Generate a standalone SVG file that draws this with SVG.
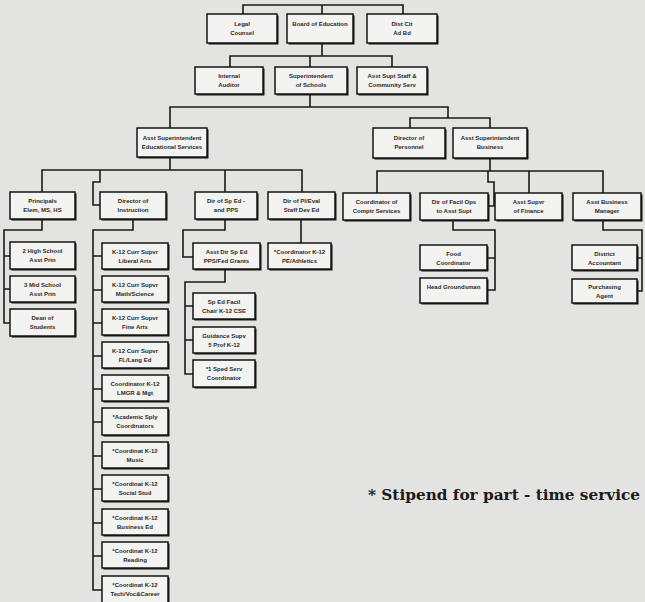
<svg xmlns="http://www.w3.org/2000/svg" width="645" height="602" viewBox="0 0 645 602">
<defs>
<style>
.bg{fill:#e3e3e1}
.sh{fill:#151515}
.bx{fill:#f3f3f1;stroke:#151515;stroke-width:1.5}
.t{font-family:"Liberation Sans",Arial,sans-serif;font-size:6px;font-weight:bold;fill:#2a2a2a;text-anchor:middle}
.c{fill:none;stroke:#1a1a1a;stroke-width:1.6}
.fn{font-family:"DejaVu Serif","Liberation Serif",serif;font-size:15.3px;font-weight:bold;fill:#1a1a1a}
</style>
</defs>
<rect class="bg" x="0" y="0" width="645" height="602"/>

<g id="connectors">
<path class="c" d="M243,14V5H403V14M322,5V14"/>
<path class="c" d="M322,43V56M230,67V56H392V67M310,56V67"/>
<path class="c" d="M310,94V107M170,128V107H448V118M410,128V118H490V128"/>
<path class="c" d="M170,157V170M42,192V170H302V192M225,170V192M100,170V182H93V205H100"/>
<path class="c" d="M490,158V171M377,193V171H603V193M529,171V193M488,171V182H494V206H488"/>
<path class="c" d="M42,219V230H4V323H10M4,256H10M4,289H10"/>
<path class="c" d="M133,219V230H93V590H102M93,256H102M93,290H102M93,323H102M93,356H102M93,389H102M93,422H102M93,456H102M93,489H102M93,523H102M93,556H102"/>
<path class="c" d="M225,219V230H183V257H193"/>
<path class="c" d="M301,219V243"/>
<path class="c" d="M225,270V282H185V374H193M185,306H193M185,340H193"/>
<path class="c" d="M453,220V230H495V290H487M495,258H487"/>
<path class="c" d="M603,220V230H642V291H637M642,258H637"/>
</g>

<g id="n_legal"><rect class="sh" x="208.5" y="15.5" width="70" height="29"/><rect class="bx" x="207" y="14" width="70" height="29"/><text class="t" x="242" y="26">Legal</text><text class="t" x="242" y="35">Counsel</text></g>
<g id="n_board"><rect class="sh" x="288.5" y="15.5" width="66" height="29"/><rect class="bx" x="287" y="14" width="66" height="29"/><text class="t" x="320" y="26">Board of Education</text></g>
<g id="n_dist"><rect class="sh" x="368.5" y="15.5" width="70" height="29"/><rect class="bx" x="367" y="14" width="70" height="29"/><text class="t" x="402" y="26">Dist Cit</text><text class="t" x="402" y="35">Ad Bd</text></g>

<g id="n_audit"><rect class="sh" x="196.5" y="68.5" width="68" height="27"/><rect class="bx" x="195" y="67" width="68" height="27"/><text class="t" x="229" y="78">Internal</text><text class="t" x="229" y="87">Auditor</text></g>
<g id="n_supt"><rect class="sh" x="276.5" y="68.5" width="72" height="27"/><rect class="bx" x="275" y="67" width="72" height="27"/><text class="t" x="311" y="78">Superintendent</text><text class="t" x="311" y="87">of Schools</text></g>
<g id="n_staff"><rect class="sh" x="358.5" y="68.5" width="70" height="27"/><rect class="bx" x="357" y="67" width="70" height="27"/><text class="t" x="392" y="78">Asst Supt Staff &amp;</text><text class="t" x="392" y="87">Community Serv</text></g>

<g id="n_asued"><rect class="sh" x="138.5" y="129.5" width="70" height="29"/><rect class="bx" x="137" y="128" width="70" height="29"/><text class="t" x="172" y="140">Asst Superintendent</text><text class="t" x="172" y="149">Educational Services</text></g>
<g id="n_pers"><rect class="sh" x="374.5" y="129.5" width="72" height="30"/><rect class="bx" x="373" y="128" width="72" height="30"/><text class="t" x="409" y="140">Director of</text><text class="t" x="409" y="149">Personnel</text></g>
<g id="n_asbus"><rect class="sh" x="454.5" y="129.5" width="74" height="30"/><rect class="bx" x="453" y="128" width="74" height="30"/><text class="t" x="490" y="140">Asst Superintendent</text><text class="t" x="490" y="149">Business</text></g>

<g id="n_prin"><rect class="sh" x="11.5" y="193.5" width="65" height="27"/><rect class="bx" x="10" y="192" width="65" height="27"/><text class="t" x="42.5" y="203">Principals</text><text class="t" x="42.5" y="212">Elem, MS, HS</text></g>
<g id="n_dinst"><rect class="sh" x="101.5" y="193.5" width="66" height="27"/><rect class="bx" x="100" y="192" width="66" height="27"/><text class="t" x="133" y="203">Director of</text><text class="t" x="133" y="212">Instruction</text></g>
<g id="n_dsped"><rect class="sh" x="196.5" y="193.5" width="62" height="27"/><rect class="bx" x="195" y="192" width="62" height="27"/><text class="t" x="226" y="203">Dir of Sp Ed -</text><text class="t" x="226" y="212">and PPS</text></g>
<g id="n_dpl"><rect class="sh" x="269.5" y="193.5" width="67" height="27"/><rect class="bx" x="268" y="192" width="67" height="27"/><text class="t" x="301.5" y="203">Dir of Pl/Eval</text><text class="t" x="301.5" y="212">Staff Dev Ed</text></g>
<g id="n_comp"><rect class="sh" x="344.5" y="194.5" width="67" height="27"/><rect class="bx" x="343" y="193" width="67" height="27"/><text class="t" x="376.5" y="204">Coordinator of</text><text class="t" x="376.5" y="213">Comptr Services</text></g>
<g id="n_facil"><rect class="sh" x="421.5" y="194.5" width="68" height="27"/><rect class="bx" x="420" y="193" width="68" height="27"/><text class="t" x="454" y="204">Dir of Facil Ops</text><text class="t" x="454" y="213">to Asst Supt</text></g>
<g id="n_fin"><rect class="sh" x="496.5" y="194.5" width="67" height="27"/><rect class="bx" x="495" y="193" width="67" height="27"/><text class="t" x="528.5" y="204">Asst Supvr</text><text class="t" x="528.5" y="213">of Finance</text></g>
<g id="n_bm"><rect class="sh" x="574.5" y="194.5" width="68" height="27"/><rect class="bx" x="573" y="193" width="68" height="27"/><text class="t" x="607" y="204">Asst Business</text><text class="t" x="607" y="213">Manager</text></g>

<g id="n_hs"><rect class="sh" x="11.5" y="243.5" width="65" height="27"/><rect class="bx" x="10" y="242" width="65" height="27"/><text class="t" x="42.5" y="253">2 High School</text><text class="t" x="42.5" y="262">Asst Prin</text></g>
<g id="n_ms"><rect class="sh" x="11.5" y="277.5" width="65" height="26"/><rect class="bx" x="10" y="276" width="65" height="26"/><text class="t" x="42.5" y="287">3 Mid School</text><text class="t" x="42.5" y="296">Asst Prin</text></g>
<g id="n_dean"><rect class="sh" x="11.5" y="310.5" width="65" height="27"/><rect class="bx" x="10" y="309" width="65" height="27"/><text class="t" x="42.5" y="320">Dean of</text><text class="t" x="42.5" y="329">Students</text></g>

<g id="n_i1"><rect class="sh" x="103.5" y="244.5" width="66" height="26"/><rect class="bx" x="102" y="243" width="66" height="26"/><text class="t" x="135" y="254">K-12 Curr Supvr</text><text class="t" x="135" y="263">Liberal Arts</text></g>
<g id="n_i2"><rect class="sh" x="103.5" y="277.5" width="66" height="26"/><rect class="bx" x="102" y="276" width="66" height="26"/><text class="t" x="135" y="287">K-12 Curr Supvr</text><text class="t" x="135" y="296">Math/Science</text></g>
<g id="n_i3"><rect class="sh" x="103.5" y="310.5" width="66" height="26"/><rect class="bx" x="102" y="309" width="66" height="26"/><text class="t" x="135" y="320">K-12 Curr Supvr</text><text class="t" x="135" y="329">Fine Arts</text></g>
<g id="n_i4"><rect class="sh" x="103.5" y="343.5" width="66" height="26"/><rect class="bx" x="102" y="342" width="66" height="26"/><text class="t" x="135" y="353">K-12 Curr Supvr</text><text class="t" x="135" y="362">FL/Lang Ed</text></g>
<g id="n_i5"><rect class="sh" x="103.5" y="376.5" width="66" height="26"/><rect class="bx" x="102" y="375" width="66" height="26"/><text class="t" x="135" y="386">Coordinator K-12</text><text class="t" x="135" y="395">LMGR &amp; Mgt</text></g>
<g id="n_i6"><rect class="sh" x="103.5" y="409.5" width="66" height="27"/><rect class="bx" x="102" y="408" width="66" height="27"/><text class="t" x="135" y="419">*Academic Sply</text><text class="t" x="135" y="428">Coordinators</text></g>
<g id="n_i7"><rect class="sh" x="103.5" y="443.5" width="66" height="26"/><rect class="bx" x="102" y="442" width="66" height="26"/><text class="t" x="135" y="453">*Coordinat K-12</text><text class="t" x="135" y="462">Music</text></g>
<g id="n_i8"><rect class="sh" x="103.5" y="476.5" width="66" height="26"/><rect class="bx" x="102" y="475" width="66" height="26"/><text class="t" x="135" y="486">*Coordinat K-12</text><text class="t" x="135" y="495">Social Stud</text></g>
<g id="n_i9"><rect class="sh" x="103.5" y="510.5" width="66" height="26"/><rect class="bx" x="102" y="509" width="66" height="26"/><text class="t" x="135" y="520">*Coordinat K-12</text><text class="t" x="135" y="529">Business Ed</text></g>
<g id="n_i10"><rect class="sh" x="103.5" y="543.5" width="66" height="26"/><rect class="bx" x="102" y="542" width="66" height="26"/><text class="t" x="135" y="553">*Coordinat K-12</text><text class="t" x="135" y="562">Reading</text></g>
<g id="n_i11"><rect class="sh" x="103.5" y="577.5" width="66" height="27"/><rect class="bx" x="102" y="576" width="66" height="27"/><text class="t" x="135" y="587">*Coordinat K-12</text><text class="t" x="135" y="596">Tech/Voc&amp;Career</text></g>

<g id="n_asdir"><rect class="sh" x="194.5" y="244.5" width="67" height="26"/><rect class="bx" x="193" y="243" width="67" height="26"/><text class="t" x="226.5" y="254">Asst Dir Sp Ed</text><text class="t" x="226.5" y="263">PPS/Fed Grants</text></g>
<g id="n_pe"><rect class="sh" x="269.5" y="244.5" width="63" height="26"/><rect class="bx" x="268" y="243" width="63" height="26"/><text class="t" x="299.5" y="254">*Coordinator K-12</text><text class="t" x="299.5" y="263">PE/Athletics</text></g>
<g id="n_sp1"><rect class="sh" x="194.5" y="294.5" width="62" height="26"/><rect class="bx" x="193" y="293" width="62" height="26"/><text class="t" x="224" y="304">Sp Ed Facil</text><text class="t" x="224" y="313">Chair K-12 CSE</text></g>
<g id="n_sp2"><rect class="sh" x="194.5" y="328.5" width="62" height="26"/><rect class="bx" x="193" y="327" width="62" height="26"/><text class="t" x="224" y="338">Guidance Supv</text><text class="t" x="224" y="347">5 Prof K-12</text></g>
<g id="n_sp3"><rect class="sh" x="194.5" y="361.5" width="62" height="27"/><rect class="bx" x="193" y="360" width="62" height="27"/><text class="t" x="224" y="371">*1 Sped Serv</text><text class="t" x="224" y="380">Coordinator</text></g>

<g id="n_food"><rect class="sh" x="421.5" y="246.5" width="67" height="25"/><rect class="bx" x="420" y="245" width="67" height="25"/><text class="t" x="453.5" y="256">Food</text><text class="t" x="453.5" y="265">Coordinator</text></g>
<g id="n_head"><rect class="sh" x="421.5" y="279.5" width="67" height="25"/><rect class="bx" x="420" y="278" width="67" height="25"/><text class="t" x="453.5" y="289">Head Groundsman</text></g>
<g id="n_acct"><rect class="sh" x="573.5" y="246.5" width="65" height="25"/><rect class="bx" x="572" y="245" width="65" height="25"/><text class="t" x="604.5" y="256">District</text><text class="t" x="604.5" y="265">Accountant</text></g>
<g id="n_purch"><rect class="sh" x="573.5" y="280.5" width="65" height="24"/><rect class="bx" x="572" y="279" width="65" height="24"/><text class="t" x="604.5" y="289">Purchasing</text><text class="t" x="604.5" y="298">Agent</text></g>

<text class="fn" x="368" y="500">* Stipend for part - time service</text>
</svg>
